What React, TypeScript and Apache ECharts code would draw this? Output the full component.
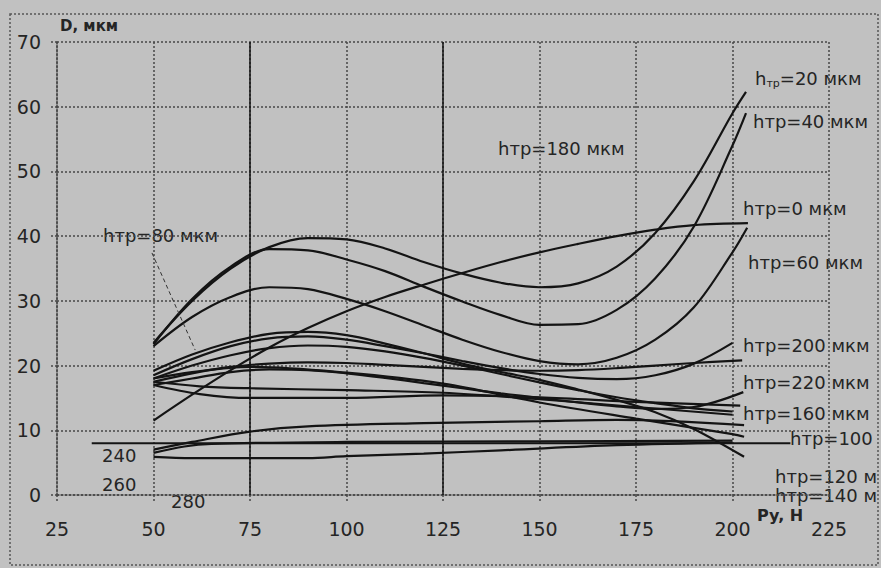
import React, { useEffect, useRef } from "react";
import * as echarts from "echarts";

const xTicks = [25, 50, 75, 100, 125, 150, 175, 200, 225];
const yTicks = [0, 10, 20, 30, 40, 50, 60, 70];
const solidVerticals = [75, 125];

const h20 = [[50,23.5],[60,30],[70,35],[80,38.3],[90,39.7],[100,39.5],[110,38.1],[120,36],[130,34.2],[140,32.8],[150,32.1],[160,32.7],[170,35.3],[180,40.5],[190,48.5],[200,59],[203.5,62.3]];
const h40 = [[50,23.3],[60,30.3],[70,35.3],[80,38],[90,37.8],[100,36.4],[110,34.6],[120,32.2],[130,29.9],[140,27.8],[150,26.3],[160,26.4],[170,28.6],[180,33.5],[190,41.5],[200,54],[203.5,59]];
const h60 = [[50,23],[60,27.5],[70,30.6],[80,32.1],[90,31.8],[100,30.3],[110,28.4],[120,26.2],[130,24],[140,22.1],[150,20.7],[160,20.2],[170,21.2],[180,24],[190,29],[200,37.5],[203.8,41.3]];
const h0 = [[50,11.5],[60,15.5],[70,19.3],[80,22.8],[90,25.8],[100,28.4],[110,30.6],[120,32.5],[130,34.3],[140,36],[150,37.5],[160,38.8],[170,40],[180,41],[190,41.7],[204,42]];
const h200 = [[50,18.5],[60,21],[70,23],[80,24.2],[90,24.5],[100,24],[110,23],[120,21.9],[130,20.7],[140,19.6],[150,18.7],[160,18.1],[170,17.9],[180,18.5],[190,20.3],[200,23.5]];
const h140 = [[50,19.2],[60,21.7],[70,23.6],[80,24.9],[90,25.2],[100,24.7],[110,23.4],[120,21.9],[130,20.3],[140,19],[150,17.8],[160,16.3],[170,14.7],[180,12.8],[190,10.2],[203,5.9]];
const h160 = [[50,18],[60,20],[70,21.6],[80,22.7],[90,23.1],[100,22.9],[110,22.2],[120,21.2],[130,20],[140,18.7],[150,17.4],[160,16.2],[170,15.1],[180,14.2],[190,13.4],[200,12.9]];
const h220 = [[50,17.5],[60,18.8],[70,19.8],[80,20.3],[90,20.5],[100,20.4],[110,20.1],[120,19.8],[130,19.5],[140,19.3],[150,19.2],[160,19.3],[170,19.6],[180,20],[190,20.4],[202.5,20.8]];
const h180 = [[50,17],[60,18],[70,19],[80,19.4],[90,19.3],[100,18.8],[110,18.1],[120,17.3],[130,16.5],[140,15.7],[150,15],[160,14.3],[170,13.7],[180,13.3],[190,13.6],[202.8,15.9]];
const h120 = [[50,18],[60,19],[75,19.8],[100,18.9],[125,17.2],[150,14.3],[175,11.8],[200,9.4],[203,9]];
const hA = [[50,17.5],[62,16.8],[75,16.5],[100,16.2],[125,15.8],[150,14.8],[175,13.6],[200,12.4]];
const hB = [[50,17],[62,15.6],[75,15],[100,15],[125,15.4],[150,15.1],[175,14.4],[202,13.8]];
const h240 = [[50,7],[60,8.2],[75,9.8],[90,10.6],[120,11.1],[150,11.4],[170,11.6],[203,10.8]];
const h260 = [[50,6.5],[58,7.5],[65,7.9],[100,8.2],[150,8.3],[200,8.4]];
const h280 = [[50,5.9],[60,5.7],[90,5.7],[100,6],[120,6.4],[140,6.9],[170,7.7],[200,8.1]];
const h100 = [[34,8],[215,8]];
const leader80 = [[49.6,37.4],[60.8,22.4]];

const curves = [h20, h40, h60, h0, h200, h140, h160, h220, h180, h120, hA, hB, h240, h260, h280, h100];

const FONT = "'DejaVu Sans', Verdana, sans-serif";
const BG = "#c1c1c1";
const INK = "#141414";
const GRID = "#474747";
const TXT = "#252525";

const labels = [
  { x: 103, y: 235, t: "hтр=80 мкм" },
  { x: 498, y: 148, t: "hтр=180 мкм" },
  { x: 753, y: 121, t: "hтр=40 мкм" },
  { x: 743, y: 208, t: "hтр=0 мкм" },
  { x: 748, y: 262, t: "hтр=60 мкм" },
  { x: 743, y: 345, t: "hтр=200 мкм" },
  { x: 743, y: 382, t: "hтр=220 мкм" },
  { x: 743, y: 413, t: "hтр=160 мкм" },
  { x: 790, y: 438, t: "hтр=100" },
  { x: 775, y: 476, t: "hтр=120 м" },
  { x: 775, y: 495, t: "hтр=140 м" },
  { x: 102, y: 455, t: "240" },
  { x: 102, y: 484, t: "260" },
  { x: 171, y: 501, t: "280" },
];

export default function App() {
  const ref = useRef<HTMLDivElement>(null);
  useEffect(() => {
    if (!ref.current) return;
    const chart = echarts.init(ref.current, undefined, { renderer: "svg" });
    const dotted = { color: GRID, type: [2, 2] as any, width: 1.5 };
    const series: any[] = curves.map((d, i) => ({
      type: "line",
      name: "c" + i,
      data: d,
      showSymbol: false,
      smooth: 0.35,
      lineStyle: { color: INK, width: 2.2 },
      z: 3,
    }));
    series.push({
      type: "line",
      name: "leader",
      data: leader80,
      showSymbol: false,
      lineStyle: { color: "#333", width: 1, type: [4, 3] },
      markLine: {
        silent: true,
        symbol: ["none", "none"],
        label: { show: false },
        lineStyle: { type: "solid", color: "#111", width: 1.5 },
        data: solidVerticals.map((v) => ({ xAxis: v })),
      },
    });
    const graphics: any[] = [
      {
        type: "rect",
        shape: { x: 10, y: 14, width: 868, height: 551 },
        style: { fill: "none", stroke: "#555", lineWidth: 1.5, lineDash: [2, 2] },
      },
      {
        type: "text",
        x: 60,
        y: 26,
        style: { text: "D, мкм", font: `bold 15px ${FONT}`, fill: TXT, verticalAlign: "middle" },
      },
      {
        type: "text",
        x: 757,
        y: 515,
        style: { text: "Py, H", font: `bold 16px ${FONT}`, fill: TXT, verticalAlign: "middle" },
      },
      {
        type: "text",
        x: 755,
        y: 78,
        style: {
          text: "h{s|тр}=20 мкм",
          font: `18px ${FONT}`,
          fill: TXT,
          verticalAlign: "middle",
          rich: { s: { fontSize: 11, fontFamily: FONT, padding: [11, 0, 0, 0], fill: TXT } },
        },
      },
      ...labels.map((l) => ({
        type: "text",
        x: l.x,
        y: l.y,
        style: { text: l.t, font: `18px ${FONT}`, fill: TXT, verticalAlign: "middle" },
      })),
    ];
    chart.setOption({
      animation: false,
      backgroundColor: BG,
      grid: { left: 57, right: 52, top: 42, bottom: 73 },
      xAxis: {
        type: "value",
        min: 25,
        max: 225,
        interval: 25,
        axisLine: { show: true, lineStyle: dotted },
        axisTick: { show: true, length: 7, lineStyle: dotted },
        axisLabel: { fontSize: 19, color: TXT, margin: 24, fontFamily: FONT },
        splitLine: { show: true, lineStyle: dotted },
      },
      yAxis: {
        type: "value",
        min: 0,
        max: 70,
        interval: 10,
        axisLine: { show: true, lineStyle: dotted },
        axisTick: { show: true, length: 6, lineStyle: dotted },
        axisLabel: { fontSize: 19, color: TXT, margin: 16, fontFamily: FONT },
        splitLine: { show: true, lineStyle: dotted },
      },
      series,
      graphic: graphics,
    });
    return () => chart.dispose();
  }, []);
  return (
    <div
      ref={ref}
      style={{ position: "fixed", left: 0, top: 0, width: 881, height: 568 }}
    />
  );
}
